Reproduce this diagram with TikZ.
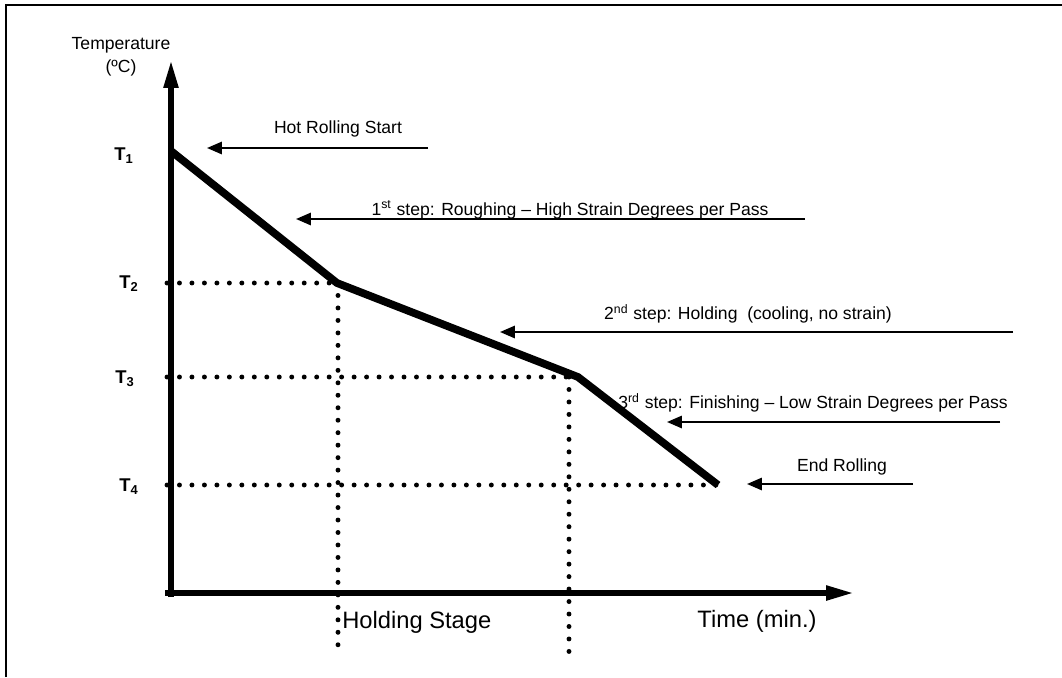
\documentclass[tikz,border=0pt]{standalone}
\usepackage{fontspec}
\setmainfont{Liberation Sans}
\usetikzlibrary{arrows.meta}

\begin{document}
\begin{tikzpicture}[x=0.02cm,y=-0.02cm,
    axis/.style={line width=3.8pt,-{Triangle[length=17pt,width=7.5pt]}},
    curve/.style={line width=4.4pt,line join=miter},
    guide/.style={line width=2.8pt,line cap=round,dash pattern=on 0pt off 7.1pt},
    note/.style={line width=1.2pt,-{Triangle[length=8.5pt,width=7pt]}},
    label node/.style={font=\fontsize{10}{12}\selectfont,inner sep=0pt},
    temp node/.style={font=\fontsize{10.5}{12}\selectfont\bfseries,inner sep=0pt},
    axis node/.style={font=\fontsize{13.5}{16}\selectfont,inner sep=0pt}]

\useasboundingbox (0,0) rectangle (1062,677);

% frame
\draw[line width=1.6pt] (6,677) -- (6,5) -- (1062,5);

% axes
\coordinate (origin) at (171,593);
\coordinate (ytip) at (171,58);
\coordinate (xtip) at (856,593);
\draw[axis] (171,597) -- (ytip);
\draw[axis] (165,593) -- (xtip);

\node[label node] (temp) at (121,45) {Temperature};
\node[label node] (unit) at (121,68) {(ºC)};
\node[axis node, anchor=west] (holding) at (342,622) {Holding Stage};
\node[axis node] (time) at (757,621) {Time (min.)};

% temperature levels
\node[temp node] (T1) at (124,156) {T$_{\mathbf 1}$};
\node[temp node] (T2) at (129,284) {T$_{\mathbf 2}$};
\node[temp node] (T3) at (125,379) {T$_{\mathbf 3}$};
\node[temp node] (T4) at (129,487) {T$_{\mathbf 4}$};

\coordinate (p1) at (171,151);
\coordinate (p2) at (337,283);
\coordinate (p3) at (578,377);
\coordinate (p4) at (718,485);

\draw[guide] (167,283) -- (p2);
\draw[guide] (167,377) -- (p3);
\draw[guide] (167,485) -- (p4);
\draw[guide] (338,283) -- (338,650);
\draw[guide] (569,377) -- (569,653);

\draw[curve] (p1) -- (p2) -- (p3) -- (p4);

% annotations
\node[label node] (start) at (338,129) {Hot Rolling Start};
\node[label node] (rough) at (570,210) {1\textsuperscript{st} step: Roughing -- High Strain Degrees per Pass};
\node[label node] (hold) at (748,314) {2\textsuperscript{nd} step: Holding\ \ (cooling, no strain)};
\node[label node] (finish) at (813,403) {3\textsuperscript{rd} step: Finishing -- Low Strain Degrees per Pass};
\node[label node] (stop) at (842,467) {End Rolling};

\coordinate (start tail) at (428,148);   \coordinate (start tip) at (207,148);
\coordinate (rough tail) at (805,219);   \coordinate (rough tip) at (296,219);
\coordinate (hold tail) at (1013,332);   \coordinate (hold tip) at (500,332);
\coordinate (finish tail) at (1000,422); \coordinate (finish tip) at (667,422);
\coordinate (stop tail) at (913,484);    \coordinate (stop tip) at (747,484);

\draw[note] (start tail) -- (start tip);
\draw[note] (rough tail) -- (rough tip);
\draw[note] (hold tail) -- (hold tip);
\draw[note] (finish tail) -- (finish tip);
\draw[note] (stop tail) -- (stop tip);

\end{tikzpicture}
\end{document}
